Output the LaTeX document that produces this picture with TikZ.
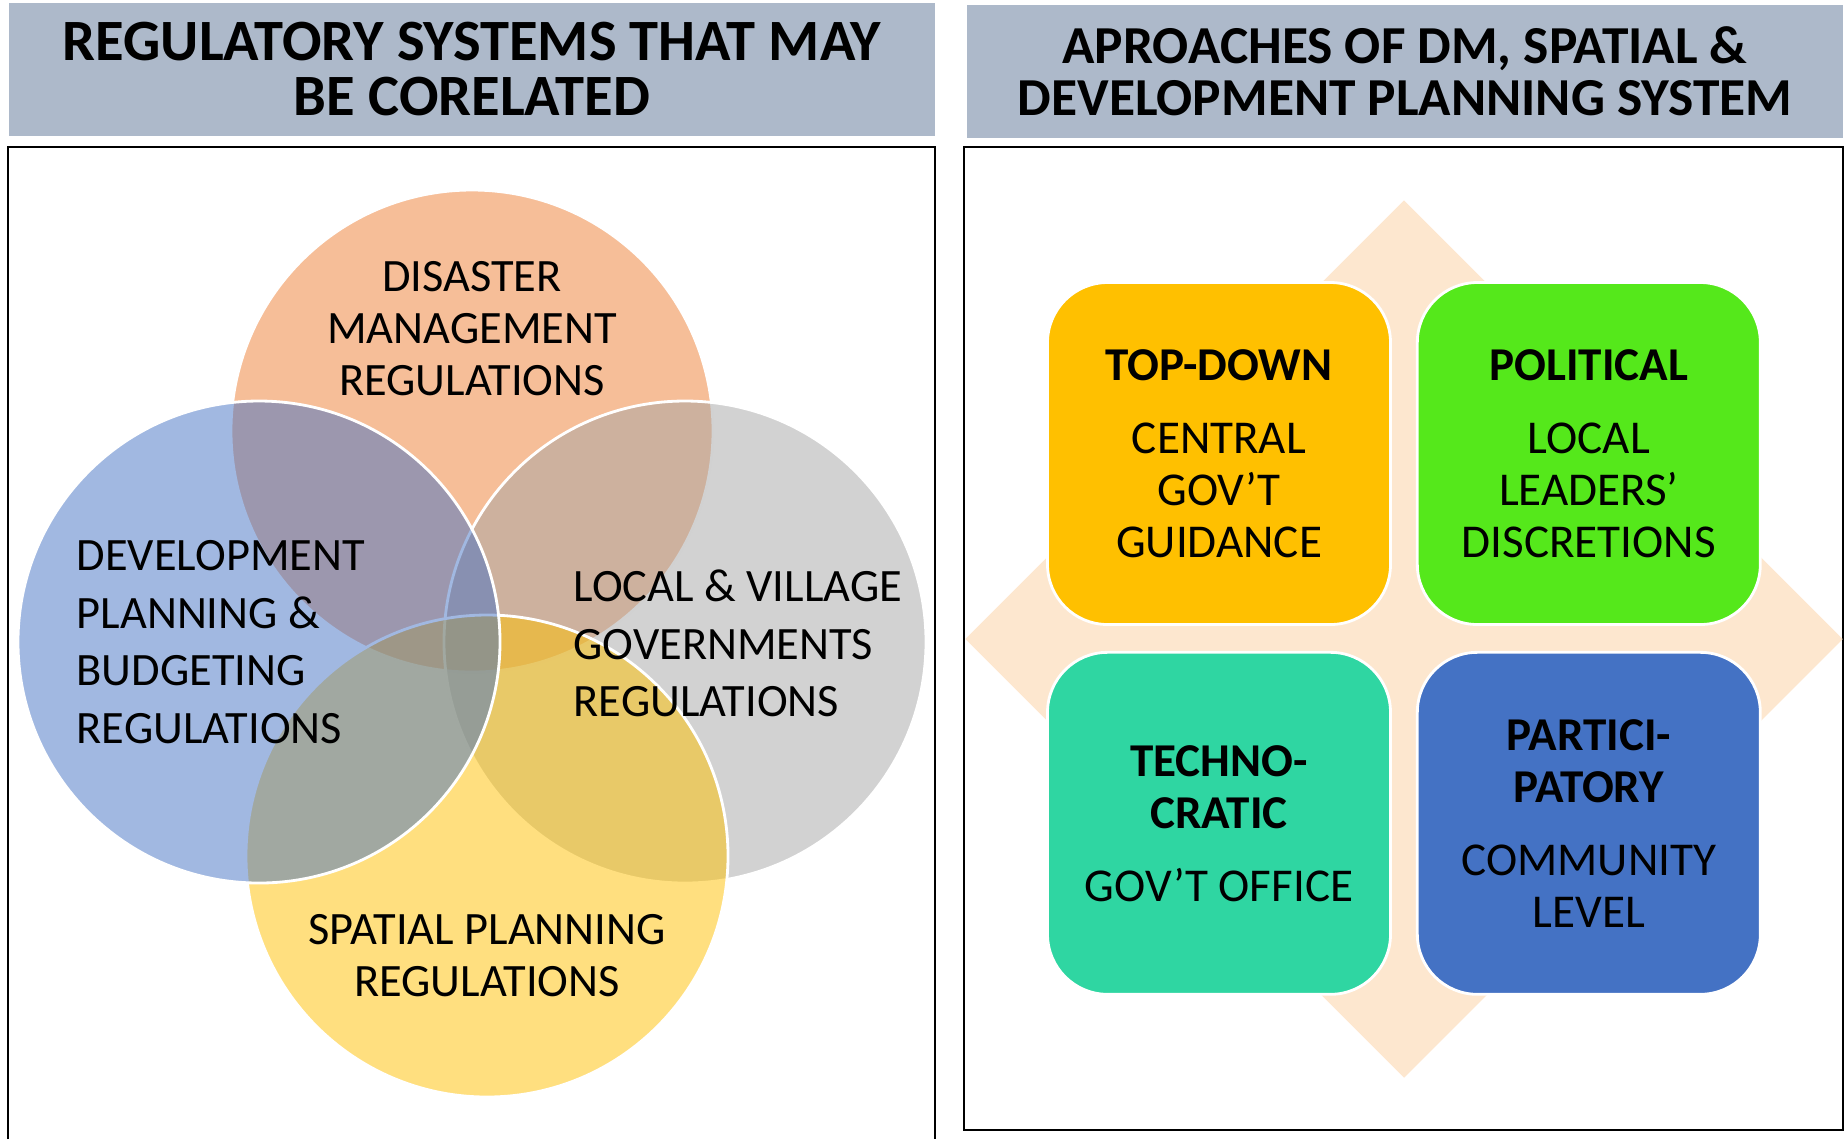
\documentclass[tikz,border=0pt]{standalone}
\usepackage{fontspec}
\setmainfont{Carlito}
\usetikzlibrary{positioning,shapes.geometric}
\usepackage{xcolor}
\definecolor{headgrey}{HTML}{ADB9CA}
\definecolor{dmorange}{HTML}{ED7D31}
\definecolor{locgrey}{HTML}{A5A5A5}
\definecolor{spyellow}{HTML}{FFC000}
\definecolor{devblue}{HTML}{4472C4}
\definecolor{peach}{HTML}{FDE7CF}
\definecolor{tdgold}{HTML}{FFC000}
\definecolor{polgreen}{HTML}{55E81B}
\definecolor{techteal}{HTML}{2FD6A2}
\definecolor{partblue}{HTML}{4472C4}

\begin{document}
\begin{tikzpicture}%
    [node distance=0.25cm and 0.24cm,
    head/.style={fill=headgrey, minimum height=1.33cm, inner sep=0pt, align=center},
    frame/.style={draw=black, line width=0.7pt},
    venn/.style={circle, minimum size=4.82cm, inner sep=0pt, draw=white, line width=0.8pt, fill opacity=0.5},
    venntext/.style={inner sep=0pt, font=\fontsize{13.2}{14.8}\selectfont},
    cell/.style={rounded corners=0.6cm, minimum width=3.43cm, minimum height=3.42cm, inner sep=0pt,
      draw=white, line width=0.8pt, align=center, font=\fontsize{13.4}{14.8}\selectfont}
    ]
    \useasboundingbox (0,0) rectangle (18.45,-11.39);

    % headers
    \node[head, minimum width=9.26cm, font=\bfseries\fontsize{16.65}{15.9}\selectfont]
      (lhead) at (4.72,-0.69) {REGULATORY SYSTEMS THAT MAY\\BE CORELATED};
    \node[head, minimum width=8.76cm, font=\bfseries\fontsize{15.2}{14.8}\selectfont]
      (rhead) at (14.05,-0.715) {APROACHES OF DM, SPATIAL \&\\DEVELOPMENT PLANNING SYSTEM};

    \draw[frame] (0.08,-11.39) |- (9.35,-1.47) -- (9.35,-11.39);
    \draw[frame] (9.64,-1.47) rectangle (18.43,-11.30);

    % venn
    \node[venn, fill=dmorange] (dm)  at (4.72,-4.31) {};
    \node[venn, fill=locgrey]  (loc) at (6.85,-6.42) {};
    \node[venn, fill=spyellow] (sp)  at (4.87,-8.56) {};
    \node[venn, fill=devblue]  (dev) at (2.59,-6.42) {};

    \node[venntext, align=center] (dmtext) at (4.72,-3.29)
      {DISASTER\\MANAGEMENT\\REGULATIONS};
    \node[venntext, align=left, anchor=west, font=\fontsize{13.2}{16.4}\selectfont]
      (devtext) at (0.76,-6.42) {DEVELOPMENT\\PLANNING \&\\BUDGETING\\REGULATIONS};
    \node[venntext, align=left, anchor=west, font=\fontsize{13.2}{16.4}\selectfont]
      (loctext) at (5.73,-6.435) {LOCAL \& VILLAGE\\GOVERNMENTS\\REGULATIONS};
    \node[venntext, align=center] (sptext) at (4.87,-9.555)
      {SPATIAL PLANNING\\REGULATIONS};

    % matrix of approaches
    \node[diamond, aspect=1, minimum size=8.78cm, inner sep=0pt, fill=peach] (backdrop) at (14.04,-6.39) {};

    \node[cell, fill=tdgold] (topdown) at (12.19,-4.535)
      {\textbf{TOP-DOWN}\\[6pt]CENTRAL\\GOV’T\\GUIDANCE};
    \node[cell, fill=polgreen] (political) [right=of topdown]
      {\textbf{POLITICAL}\\[6pt]LOCAL\\LEADERS’\\DISCRETIONS};
    \node[cell, fill=techteal] (techno) [below=of topdown]
      {\textbf{TECHNO-}\\\textbf{CRATIC}\\[6pt]GOV’T OFFICE};
    \node[cell, fill=partblue] (partic) [right=of techno]
      {\textbf{PARTICI-}\\\textbf{PATORY}\\[6pt]COMMUNITY\\LEVEL};
  \end{tikzpicture}
\end{document}
